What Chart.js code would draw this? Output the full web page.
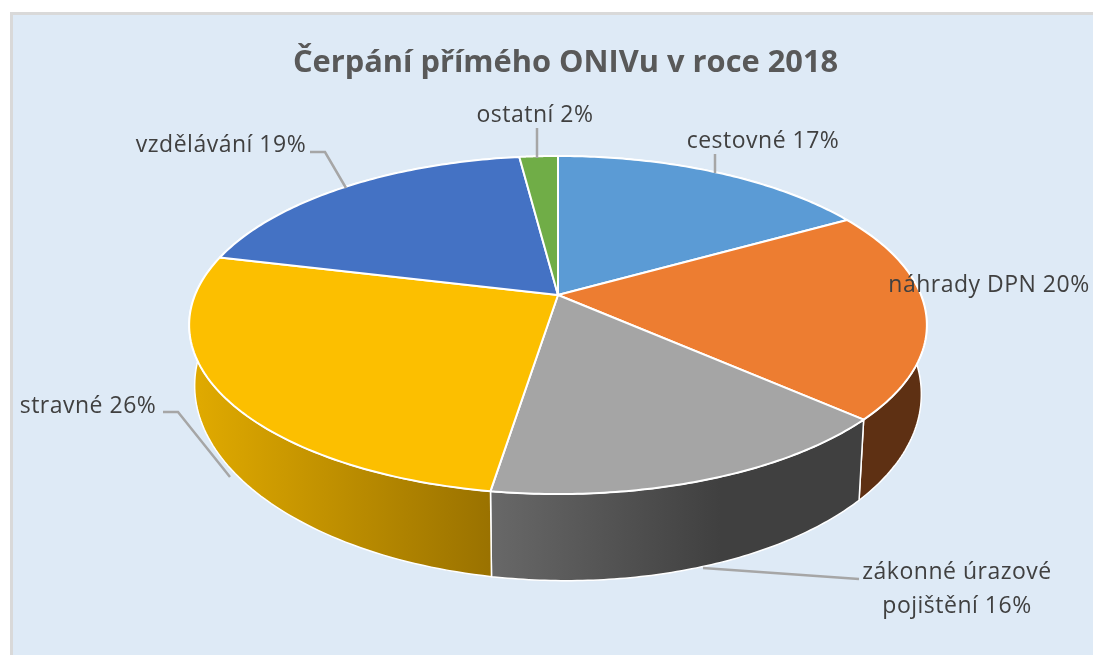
<!DOCTYPE html>
<html lang="cs"><head><meta charset="utf-8">
<style>
html,body{margin:0;padding:0;background:#fff;width:1093px;height:655px;overflow:hidden}
#card{position:absolute;left:10px;top:12px;width:1100px;height:700px;border:3px solid #d9d9d9;background:#deeaf6}
#wrap{position:absolute;left:0;top:0;width:1093px;height:655px}
</style>
<script src="https://cdn.jsdelivr.net/npm/chart.js@4"></script>
</head><body>
<div id="card"></div>
<div id="wrap"><canvas id="c" width="1093" height="655"></canvas></div>
<script>
const chartTitle = "Čerpání přímého ONIVu v roce 2018";
const categories = ["cestovné", "náhrady DPN", "zákonné úrazové pojištění", "stravné", "vzdělávání", "ostatní"];
const sliceValues = [16.7, 20, 15.75, 26.4, 19.15, 2];
const shownPercent = [17, 20, 16, 26, 19, 2];
const sliceColors = ["#5b9bd5", "#ed7d31", "#a5a5a5", "#fcbf00", "#4472c4", "#70ad47"];
const wallColors = [["#2e5a85","#2e5a85"], ["#5e3013","#5e3013"], ["#404040","#686868"], ["#9a7200","#dfa900"], ["#28437a","#28437a"], ["#426a2a","#426a2a"]];
const wallGradientX = [[0,0],[0,0],[720,492],[490,200],[0,0],[0,0]];
// label placement: [text, anchor x, baseline y] per line
const labelLines = [
  [["cestovné " + shownPercent[0] + "%", 763, 148]],
  [["náhrady DPN " + shownPercent[1] + "%", 989, 292]],
  [["zákonné úrazové", 957, 579], ["pojištění " + shownPercent[2] + "%", 957, 613]],
  [["stravné " + shownPercent[3] + "%", 88, 413]],
  [["vzdělávání " + shownPercent[4] + "%", 221, 152]],
  [["ostatní " + shownPercent[5] + "%", 535, 122]]
];
const leaderLines = [
  [[715,154],[715,173]],
  null,
  [[859,579],[703,568]],
  [[163,412],[178,412],[230,477]],
  [[310,152],[325,152],[346,188]],
  [[537,128],[537,158]]
];
const view = {cx:558, cy:295, r:363, b:163.7, k:0.1776, sx:0.985, dyBase:61, dyY:0.1286, dyX:0.0118};

function topPt(a){ // a = library arc angle, perspective projection of the disc
  const u = Math.cos(a), v = Math.sin(a), w = 1/(1 - view.k*v);
  return [view.cx + view.r*u*w, view.cy + view.b*v*w];
}
function botPt(a){
  const p = topPt(a), ox = p[0]-view.cx, oy = p[1]-view.cy;
  return [view.cx + ox*view.sx, p[1] + view.dyBase + view.dyY*oy + view.dyX*ox];
}
const samples = (s,e,f) => { const o=[]; const n=80; for(let i=0;i<=n;i++) o.push(f(s+(e-s)*i/n)); return o; };

const pie3d = {
  id:'pie3d',
  beforeDatasetsDraw(chart){
    const ctx = chart.ctx, arcs = chart.getDatasetMeta(0).data;
    ctx.save();
    ctx.lineJoin = 'round';
    // side walls
    arcs.forEach((arc,i)=>{
      const t = samples(arc.startAngle, arc.endAngle, topPt);
      const b = samples(arc.startAngle, arc.endAngle, botPt).reverse();
      ctx.beginPath();
      t.concat(b).forEach((p,j)=> j? ctx.lineTo(p[0],p[1]) : ctx.moveTo(p[0],p[1]));
      ctx.closePath();
      const g = ctx.createLinearGradient(wallGradientX[i][0],0,wallGradientX[i][1],0);
      g.addColorStop(0,wallColors[i][0]); g.addColorStop(1,wallColors[i][1]);
      ctx.fillStyle = wallGradientX[i][0]===wallGradientX[i][1] ? wallColors[i][0] : g;
      ctx.fill();
      ctx.strokeStyle = '#fff'; ctx.lineWidth = 1.5; ctx.stroke();
    });
    // top faces
    arcs.forEach((arc)=>{
      const t = samples(arc.startAngle, arc.endAngle, topPt);
      ctx.beginPath();
      ctx.moveTo(view.cx, view.cy);
      t.forEach(p=>ctx.lineTo(p[0],p[1]));
      ctx.closePath();
      ctx.fillStyle = arc.options.backgroundColor;
      ctx.fill();
      ctx.strokeStyle = '#fff'; ctx.lineWidth = 2; ctx.stroke();
    });
    // leader lines
    ctx.strokeStyle = '#a6a6a6'; ctx.lineWidth = 2.5; ctx.lineJoin='miter';
    leaderLines.forEach(l=>{
      if(!l) return;
      ctx.beginPath();
      l.forEach((p,j)=> j? ctx.lineTo(p[0],p[1]) : ctx.moveTo(p[0],p[1]));
      ctx.stroke();
    });
    // labels
    ctx.fillStyle = '#404040';
    ctx.font = '23px "Open Sans"';
    ctx.letterSpacing = '0.5px';
    ctx.textAlign = 'center';
    ctx.textBaseline = 'alphabetic';
    labelLines.forEach(ls=>ls.forEach(l=>ctx.fillText(l[0],l[1],l[2])));
    ctx.restore();
    return false;
  }
};

new Chart(document.getElementById('c'),{
  type:'pie',
  data:{labels:categories, datasets:[{data:sliceValues, backgroundColor:sliceColors, borderColor:'#fff', borderWidth:2}]},
  plugins:[pie3d],
  options:{
    responsive:false, animation:false,
    layout:{padding:{left:38,top:45}},
    plugins:{
      legend:{display:false},
      tooltip:{enabled:false},
      title:{display:true, text:chartTitle, fullSize:false, color:'#595959',
        font:{family:'"Open Sans"', size:30.8, weight:'bold'}, padding:{top:0,bottom:10}}
    }
  }
});
</script>
</body></html>
